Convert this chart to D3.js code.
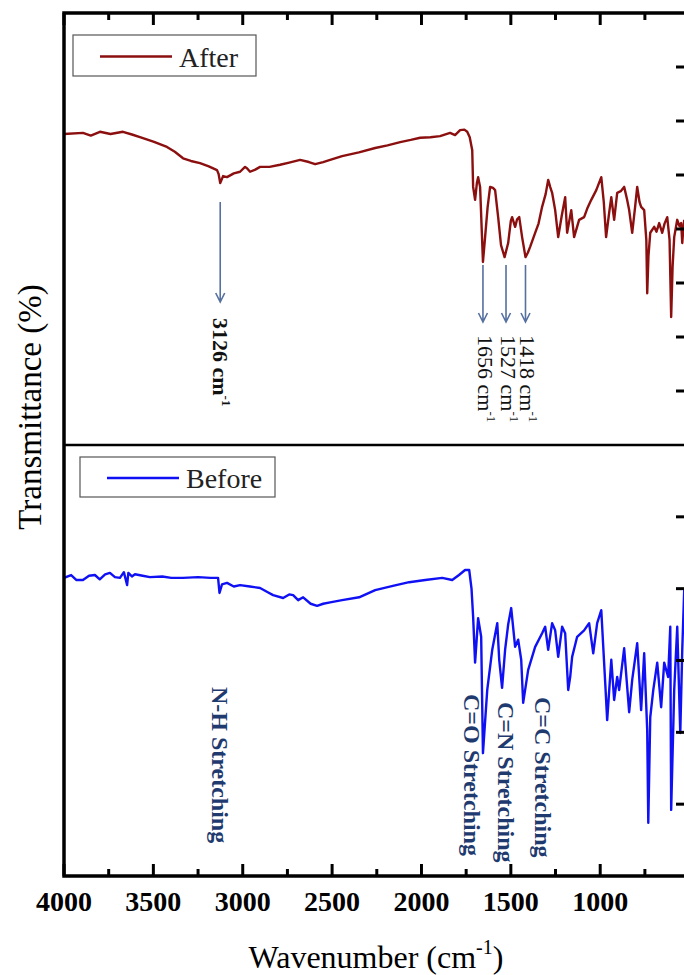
<!DOCTYPE html>
<html>
<head>
<meta charset="utf-8">
<script src="https://cdn.jsdelivr.net/npm/d3@7"></script>
<style>
  html,body{margin:0;padding:0;background:#fff;overflow:hidden;}
  svg{display:block;font-family:"Liberation Serif","Times New Roman",serif;}
</style>
</head>
<body>
<svg id="chart" width="684" height="975"></svg>
<script>
// wavenumber (cm-1), transmittance (%)
const afterSpectrum=[[4000,57.6],[3894,57.8],[3850,57.3],[3799,58.0],[3740,57.6],[3670,58.0],[3620,57.5],[3575,57.0],[3500,56.2],[3424,55.2],[3380,54.3],[3334,53.1],[3290,52.6],[3239,52.2],[3190,51.6],[3144,50.9],[3135,50.2],[3126,48.5],[3110,49.8],[3088,49.6],[3050,50.3],[3015,50.6],[2987,51.5],[2975,51.2],[2959,50.6],[2930,51.0],[2903,51.5],[2850,51.5],[2791,51.9],[2740,52.3],[2679,52.8],[2630,52.4],[2595,52.0],[2550,52.4],[2511,52.8],[2444,53.5],[2350,54.2],[2259,55.0],[2190,55.5],[2119,56.1],[2060,56.5],[2007,56.9],[1950,57.0],[1896,57.2],[1840,57.8],[1812,57.4],[1784,58.3],[1760,58.4],[1744,58.0],[1730,57.0],[1716,54.6],[1711,47.8],[1700,45.4],[1690,48.5],[1683,49.6],[1672,47.8],[1656,33.9],[1644,38.5],[1630,44.0],[1616,47.8],[1600,47.6],[1588,47.2],[1571,42.2],[1555,37.0],[1535,34.8],[1515,37.4],[1500,41.5],[1493,42.2],[1476,40.4],[1465,41.8],[1453,42.2],[1437,38.5],[1418,34.8],[1405,35.6],[1392,36.7],[1364,39.3],[1345,41.0],[1325,44.1],[1305,46.5],[1291,49.1],[1280,47.8],[1269,46.7],[1252,43.5],[1235,38.5],[1215,42.5],[1196,45.9],[1185,39.3],[1162,43.5],[1146,38.5],[1118,41.7],[1090,42.2],[1070,44.0],[1050,45.4],[1022,47.2],[994,49.6],[980,45.0],[967,38.5],[950,43.0],[938,45.9],[922,41.7],[905,46.7],[885,47.0],[866,47.8],[850,45.5],[838,43.5],[821,39.3],[805,44.0],[793,47.8],[780,45.0],[771,44.1],[754,43.5],[742,38.0],[737,28.1],[730,35.0],[720,39.3],[698,40.4],[685,39.5],[670,41.1],[653,39.3],[640,41.0],[625,42.2],[612,38.0],[603,23.7],[595,33.0],[586,38.5],[569,41.7],[556,40.5],[547,41.1],[541,37.4],[535,40.0],[530,41.7]];

const beforeSpectrum=[[4000,41.5],[3960,41.9],[3930,41.2],[3894,41.2],[3860,41.8],[3827,41.9],[3800,41.3],[3770,42.0],[3743,42.2],[3715,41.6],[3687,41.5],[3665,42.3],[3647,40.5],[3640,42.2],[3620,41.7],[3603,42.0],[3560,41.8],[3519,41.6],[3450,41.7],[3400,41.5],[3334,41.5],[3250,41.6],[3180,41.5],[3138,41.5],[3130,39.4],[3116,40.6],[3088,40.8],[3050,40.3],[3015,40.5],[2960,40.3],[2903,40.1],[2860,39.5],[2830,39.1],[2774,38.7],[2740,39.2],[2718,39.1],[2690,38.4],[2662,38.8],[2620,37.9],[2584,37.6],[2550,37.9],[2511,38.1],[2444,38.4],[2349,38.8],[2259,39.8],[2160,40.4],[2069,40.9],[1979,41.2],[1884,41.5],[1828,41.2],[1790,41.9],[1756,42.6],[1733,42.6],[1720,40.0],[1711,36.1],[1700,29.7],[1683,35.9],[1666,33.3],[1656,17.1],[1632,25.9],[1604,31.5],[1576,35.2],[1565,30.1],[1549,26.2],[1532,31.5],[1515,35.0],[1498,37.3],[1476,31.9],[1459,32.9],[1442,30.1],[1431,24.1],[1403,28.7],[1364,31.9],[1325,33.8],[1308,34.7],[1291,31.5],[1269,35.2],[1252,34.2],[1235,30.5],[1213,34.7],[1196,33.8],[1179,25.9],[1168,27.7],[1157,30.5],[1129,33.3],[1090,34.2],[1062,35.2],[1039,31.0],[1017,35.2],[994,37.0],[972,26.9],[961,21.7],[938,30.1],[922,24.5],[905,27.7],[894,25.9],[866,31.7],[838,22.8],[821,27.3],[793,32.4],[771,23.1],[754,31.0],[737,20.3],[731,7.4],[720,22.1],[703,25.9],[681,29.7],[659,23.5],[642,29.7],[620,27.7],[608,34.7],[603,9.2],[586,25.9],[569,34.7],[552,19.9],[541,31.5],[530,39.8]];

const xMajorTicks=[4000,3500,3000,2500,2000,1500,1000];
const xMinorTicks=[3750,3250,2750,2250,1750,1250,750];
const topYTicks=[10,20,30,40,50,60,70];
const bottomYTicks=[10,20,30,40,50];
const peakLabels=[{w:3126,text:"3126",bold:true},{w:1656,text:"1656",bold:false},{w:1527,text:"1527",bold:false},{w:1418,text:"1418",bold:false}];
const bandLabels=[{w:3126,text:"N-H Stretching",y:687},{w:1720,text:"C=O Stretching",y:694},{w:1527,text:"C=N Stretching",y:702},{w:1320,text:"C=C Stretching",y:697}];

const svg=d3.select("#chart");
const L=64,R=686,T=13,M=445,B=876;
const x=d3.scaleLinear().domain([4000,520]).range([L,R]);
const yTop=d3.scaleLinear().domain([0,80]).range([M,T]);
const yBot=d3.scaleLinear().domain([0,60]).range([B,M]);

svg.append("defs").append("clipPath").attr("id","plotclip")
  .append("rect").attr("x",L).attr("y",T).attr("width",R-L).attr("height",B-T);

const g=svg.append("g").attr("clip-path","url(#plotclip)");
const lineTop=d3.line().x(d=>x(d[0])).y(d=>yTop(d[1]));
const lineBot=d3.line().x(d=>x(d[0])).y(d=>yBot(d[1]));
g.append("path").datum(afterSpectrum).attr("d",lineTop).attr("fill","none").attr("stroke","#8B0F0F").attr("stroke-width",2.4).attr("stroke-linejoin","round");
g.append("path").datum(beforeSpectrum).attr("d",lineBot).attr("fill","none").attr("stroke","#1010F5").attr("stroke-width",2.4).attr("stroke-linejoin","round");

// frame + divider
svg.append("rect").attr("x",L).attr("y",T).attr("width",R-L).attr("height",B-T).attr("fill","none").attr("stroke","#000").attr("stroke-width",3.5);
svg.append("line").attr("x1",L).attr("x2",R).attr("y1",M).attr("y2",M).attr("stroke","#000").attr("stroke-width",2.5);

// x ticks (bottom & top, inward), right-side y ticks
const xt=svg.append("g").attr("stroke","#000").attr("stroke-width",3);
xMajorTicks.forEach(v=>{
  xt.append("line").attr("x1",x(v)).attr("x2",x(v)).attr("y1",B).attr("y2",B-12);
  xt.append("line").attr("x1",x(v)).attr("x2",x(v)).attr("y1",T).attr("y2",T+12);
});
xMinorTicks.forEach(v=>{
  xt.append("line").attr("x1",x(v)).attr("x2",x(v)).attr("y1",B).attr("y2",B-7);
  xt.append("line").attr("x1",x(v)).attr("x2",x(v)).attr("y1",T).attr("y2",T+7);
});
topYTicks.forEach(v=>xt.append("line").attr("x1",R).attr("x2",R-10).attr("y1",yTop(v)).attr("y2",yTop(v)));
bottomYTicks.forEach(v=>xt.append("line").attr("x1",R).attr("x2",R-10).attr("y1",yBot(v)).attr("y2",yBot(v)));

svg.append("g").selectAll("text").data(xMajorTicks).join("text")
  .attr("x",d=>x(d)).attr("y",911).attr("text-anchor","middle")
  .style("font-size","28px").style("font-weight","bold").text(d=>d);

// axis titles
const xt2=svg.append("text").attr("x",(L+R)/2+1).attr("y",968).attr("text-anchor","middle").style("font-size","32px");
xt2.append("tspan").text("Wavenumber (cm");
xt2.append("tspan").attr("dy",-14).style("font-size","20px").text("-1");
xt2.append("tspan").attr("dy",14).text(")");
svg.append("text").attr("transform","translate(41,407) rotate(-90)").attr("text-anchor","middle").style("font-size","33px").text("Transmittance (%)");

// legends
function legend(x0,y0,w,h,color,label){
  const lg=svg.append("g");
  lg.append("rect").attr("x",x0).attr("y",y0).attr("width",w).attr("height",h).attr("fill","#fff").attr("stroke","#555").attr("stroke-width",1.2);
  lg.append("line").attr("x1",x0+27).attr("x2",x0+99).attr("y1",y0+h/2+1).attr("y2",y0+h/2+1).attr("stroke",color).attr("stroke-width",2.5);
  lg.append("text").attr("x",x0+106).attr("y",y0+h/2+11).style("font-size","28px").style("fill","#222").text(label);
}
legend(73,35,183,41,"#8B0F0F","After");
legend(80,457,195,40,"#1010F5","Before");

// peak arrows and labels
const arrowColor="#5670A0";
function arrow(px,y1,y2){
  svg.append("path").attr("d",`M${px},${y1}L${px},${y2}M${px-4.5},${y2-9}L${px},${y2}L${px+4.5},${y2-9}`)
    .attr("fill","none").attr("stroke",arrowColor).attr("stroke-width",1.6);
}
peakLabels.forEach(p=>{
  const px=x(p.w);
  if(p.bold)arrow(px,202,302);else arrow(px,265,322);
  const ty=p.bold?318:335;
  const t=svg.append("text").attr("transform",`translate(${px-(p.bold?7:5)},${ty}) rotate(90)`)
    .style("font-size","22px").style("font-weight",p.bold?"bold":"normal").style("fill","#111");
  t.append("tspan").text(p.text+" cm");
  t.append("tspan").attr("dy",-9).style("font-size","13px").text("-1");
});

bandLabels.forEach(b=>{
  svg.append("text").attr("transform",`translate(${x(b.w)-8},${b.y}) rotate(90)`)
    .style("font-size","24px").style("font-weight","bold").style("fill","#1F3A6E").text(b.text);
});
</script>
</body>
</html>
